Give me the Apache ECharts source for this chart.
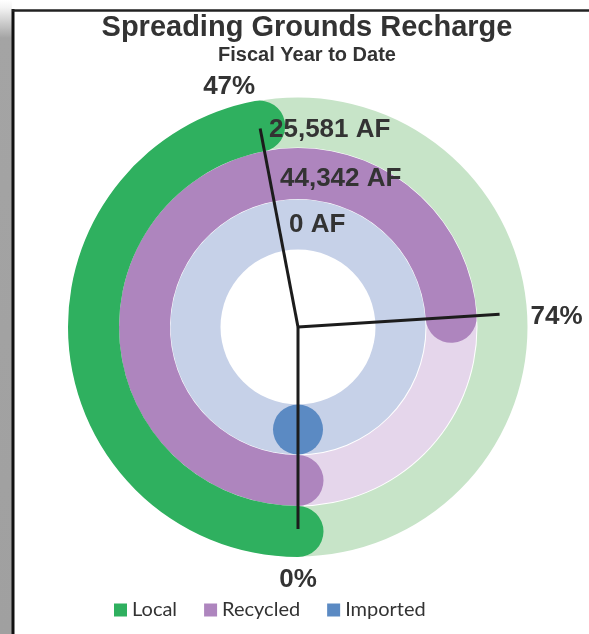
<!DOCTYPE html>
<html>
<head>
<meta charset="utf-8">
<script src="https://cdn.jsdelivr.net/npm/echarts@6/dist/echarts.min.js"></script>
<style>
  html, body { margin: 0; padding: 0; background: #fff; }
  #chart { width: 589px; height: 634px; }
</style>
</head>
<body>
<div id="chart"></div>
<script>
// rings listed inner -> outer
const rings = ['Imported', 'Recycled', 'Local'];
const percentValues = [0, 74, 47];
const acreFeet = [0, 44342, 25581];
const legendOrder = ['Local', 'Recycled', 'Imported'];

const colors = ['#5b8ac3', '#ae85be', '#2fb05f'];
const trackColors = ['#c6d1e8', '#e5d6eb', '#c7e4c8'];
const textColor = '#333333';

// label offsets (layout only)
const pctOffsets = [[0, 51], [57, 3], [-31, -42]];
const afOffsets = [[-9, 0], [-18, 5], [-29, 7]];

const chart = echarts.init(document.getElementById('chart'));

const center = [298, 327];
const font = 'Liberation Sans, Arial, sans-serif';

const series = [];

// light background tracks (own polar so widths don't compete)
series.push({
  type: 'bar',
  coordinateSystem: 'polar',
  polarIndex: 2,
  barWidth: 50,
  silent: true,
  z: 1,
  data: rings.map((r, i) => ({ value: 100, itemStyle: { color: trackColors[i] } })),
});

rings.forEach((name, i) => {
  series.push({
    name: name,
    type: 'bar',
    coordinateSystem: 'polar',
    polarIndex: 0,
    stack: 'rings',
    barWidth: 51,
    roundCap: true,
    z: 2,
    itemStyle: { color: colors[i] },
    data: rings.map((r, j) => (j === i ? percentValues[i] : '-')),
  });
});

// a zero-length round-cap bar is not drawn, so show its cap as a dot
series.push({
  type: 'scatter',
  coordinateSystem: 'polar',
  polarIndex: 0,
  silent: true,
  symbol: 'circle',
  symbolSize: 50,
  z: 3,
  itemStyle: { opacity: 1 },
  data: rings
    .map((r, i) => ({ value: [r, percentValues[i]], itemStyle: { color: colors[i] } }))
    .filter((d) => d.value[1] === 0),
});

// radial pointer lines with percent labels
rings.forEach((name, i) => {
  series.push({
    type: 'line',
    coordinateSystem: 'polar',
    polarIndex: 1,
    silent: true,
    symbol: 'circle',
    symbolSize: 0,
    showSymbol: true,
    z: 5,
    lineStyle: { color: '#1c1c1c', width: 3 },
    data: [
      [0, percentValues[i]],
      {
        value: [202, percentValues[i]],
        label: {
          show: true,
          position: 'inside',
          offset: pctOffsets[i],
          formatter: percentValues[i] + '%',
          color: textColor,
          fontFamily: font,
          fontWeight: 'bold',
          fontSize: 26,
        },
      },
    ],
  });
});

// acre-feet labels near the top of each ring
series.push({
  type: 'scatter',
  coordinateSystem: 'polar',
  polarIndex: 0,
  silent: true,
  symbolSize: 0,
  z: 6,
  itemStyle: { opacity: 1 },
  data: rings.map((r, i) => ({
    value: [r, 50],
    label: {
      show: true,
      position: afOffsets[i],
      align: 'left',
      verticalAlign: 'middle',
      formatter: acreFeet[i].toLocaleString('en-US') + ' AF',
      color: textColor,
      fontFamily: font,
      fontWeight: 'bold',
      fontSize: 26,
    },
  })),
});

const polarAngle = (idx) => ({ polarIndex: idx, type: 'value', min: 0, max: 100, startAngle: 270, clockwise: true, show: false });

const option = {
  animation: false,
  backgroundColor: '#fff',
  title: {
    text: 'Spreading Grounds Recharge',
    subtext: 'Fiscal Year to Date',
    left: 302,
    top: 8,
    textAlign: 'center',
    itemGap: 3,
    textStyle: { fontFamily: font, fontWeight: 'bold', fontSize: 29, color: textColor },
    subtextStyle: { fontFamily: font, fontWeight: 'bold', fontSize: 20, color: textColor },
  },
  legend: {
    data: legendOrder,
    left: 109,
    top: 595,
    icon: 'rect',
    itemWidth: 13,
    itemHeight: 13,
    itemGap: 27,
    selectedMode: false,
    textStyle: { fontFamily: 'Lato, sans-serif', fontSize: 20, color: textColor },
  },
  polar: [
    { center: center, radius: [77, 230] },
    { center: center, radius: [0, 230] },
    { center: center, radius: [77, 230] },
  ],
  angleAxis: [polarAngle(0), polarAngle(1), polarAngle(2)],
  radiusAxis: [
    { polarIndex: 0, type: 'category', data: rings, show: false },
    { polarIndex: 1, type: 'value', min: 0, max: 230, show: false },
    { polarIndex: 2, type: 'category', data: rings, show: false },
  ],
  graphic: [
    {
      type: 'rect',
      shape: { x: 0, y: 0, width: 12, height: 634 },
      style: {
        fill: {
          type: 'linear', x: 0, y: 0, x2: 0, y2: 1,
          colorStops: [
            { offset: 0, color: '#ffffff' },
            { offset: 0.012, color: '#f4f4f4' },
            { offset: 0.06, color: '#a4a4a4' },
            { offset: 1, color: '#a0a0a0' },
          ],
        },
      },
      z: 10,
    },
    {
      type: 'line',
      shape: { x1: 13, y1: 9, x2: 13, y2: 634 },
      style: { stroke: '#111', lineWidth: 3 },
      z: 11,
    },
    {
      type: 'line',
      shape: { x1: 12, y1: 10.5, x2: 589, y2: 10.5 },
      style: { stroke: '#222', lineWidth: 2.5 },
      z: 11,
    },
  ],
  series: series,
};

chart.setOption(option);
</script>
</body>
</html>
